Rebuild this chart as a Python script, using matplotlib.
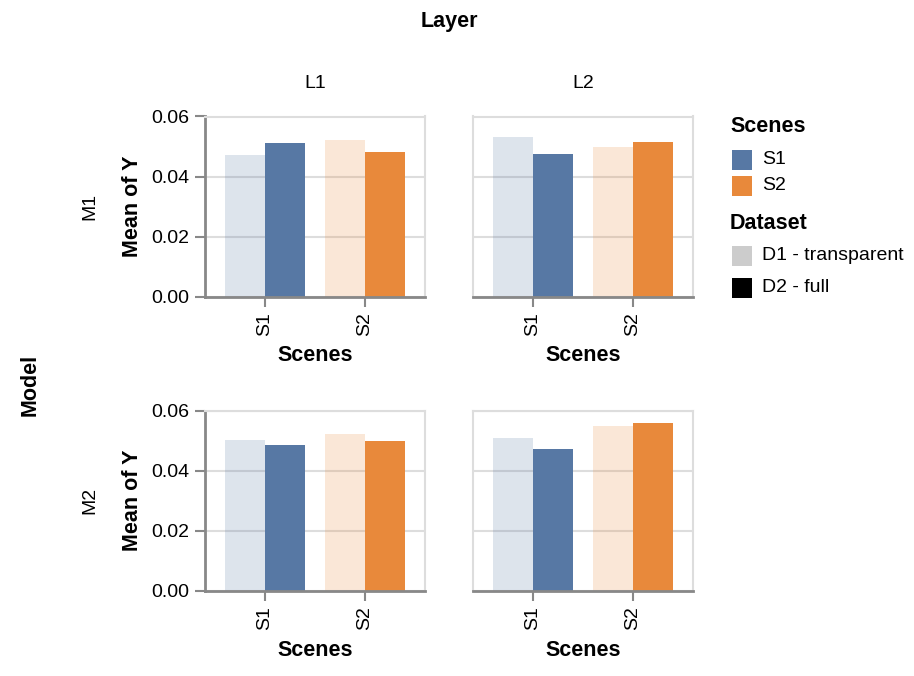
import matplotlib
matplotlib.use("Agg")
import matplotlib.pyplot as plt
from matplotlib.patches import Rectangle

plt.rcParams['font.family'] = ['Liberation Sans', 'DejaVu Sans']

layers = ["L1", "L2"]
models = ["M1", "M2"]
scenes = ["S1", "S2"]
datasets = ["D1 - transparent", "D2 - full"]

# values[model][layer][scene] = (D1, D2)
m1_l1 = {"S1": [0.0473, 0.0511], "S2": [0.0522, 0.0481]}
m1_l2 = {"S1": [0.0531, 0.0476], "S2": [0.0497, 0.0516]}
m2_l1 = {"S1": [0.0502, 0.0487], "S2": [0.0523, 0.0500]}
m2_l2 = {"S1": [0.0509, 0.0472], "S2": [0.0549, 0.0559]}
values = {"M1": {"L1": m1_l1, "L2": m1_l2}, "M2": {"L1": m2_l1, "L2": m2_l2}}

scene_colors = {"S1": "#5778a4", "S2": "#e8893b"}
dataset_alpha = [0.2, 1.0]
yticks = [0.00, 0.02, 0.04, 0.06]

W, H = 914, 676
fig = plt.figure(figsize=(W / 100, H / 100), dpi=100)

def fx(x):
    return x / W

def fy(y):
    return 1 - y / H

col_left = [205, 473]
col_w = 220
row_top = [116.5, 410.7]
row_h = 180

tick_fs = 14
title_fs = 15.5
gray = "#888888"

for r, m in enumerate(models):
    for c, l in enumerate(layers):
        ax = fig.add_axes([fx(col_left[c]), fy(row_top[r] + row_h), col_w / W, row_h / H])
        data = values[m][l]
        for i, s in enumerate(scenes):
            for j, d in enumerate(datasets):
                ax.bar(i - 0.2 + j * 0.4, data[s][j], width=0.4, align='center',
                       color=scene_colors[s], alpha=dataset_alpha[j], linewidth=0, zorder=2)
        ax.set_xlim(-0.6, 1.6)
        ax.set_ylim(0, 0.06)
        ax.set_yticks(yticks)
        ax.grid(axis='y', color='#dddddd', linewidth=1.5, zorder=0)
        ax.set_axisbelow(True)
        for sp in ['top', 'right']:
            ax.spines[sp].set_color('#dddddd')
            ax.spines[sp].set_linewidth(1.5)
        ax.spines['bottom'].set_color(gray)
        ax.spines['bottom'].set_linewidth(2)
        ax.spines['bottom'].set_zorder(3)
        ax.set_xticks(range(len(scenes)))
        ax.set_xticklabels(scenes, rotation=90, fontsize=tick_fs)
        ax.tick_params(axis='x', length=7, width=1.5, color=gray, pad=4)
        ax.set_xlabel("Scenes", fontsize=title_fs, fontweight='bold', labelpad=7)
        if c == 0:
            ax.spines['left'].set_color(gray)
            ax.spines['left'].set_linewidth(2)
            ax.set_yticklabels([f"{v:.2f}" for v in yticks], fontsize=tick_fs)
            ax.tick_params(axis='y', length=7, width=1.5, color=gray, pad=4)
            ax.set_ylabel("Mean of Y", fontsize=title_fs, fontweight='bold', labelpad=6)
        else:
            ax.spines['left'].set_color('#dddddd')
            ax.spines['left'].set_linewidth(1.5)
            ax.tick_params(axis='y', length=0, labelleft=False)

# headers
fig.text(fx(449), fy(22), "Layer", ha='center', va='center', fontsize=title_fs, fontweight='bold')
for c, l in enumerate(layers):
    fig.text(fx(col_left[c] + col_w / 2), fy(83), l, ha='center', va='center', fontsize=tick_fs)
fig.text(fx(30), fy(385), "Model", ha='center', va='center', rotation=90, fontsize=title_fs, fontweight='bold')
for r, m in enumerate(models):
    fig.text(fx(90), fy(row_top[r] + row_h / 2), m, ha='center', va='center', rotation=90, fontsize=tick_fs)

# legend
def swatch(y_top, color):
    fig.patches.append(Rectangle((fx(732), fy(y_top + 20)), 20 / W, 20 / H,
                                 transform=fig.transFigure, color=color, linewidth=0))

fig.text(fx(730), fy(127), "Scenes", ha='left', va='center', fontsize=title_fs, fontweight='bold')
for k, s in enumerate(scenes):
    yt = 150 + k * 26
    swatch(yt, scene_colors[s])
    fig.text(fx(762), fy(yt + 10), s, ha='left', va='center', fontsize=tick_fs)

fig.text(fx(730), fy(223), "Dataset", ha='left', va='center', fontsize=title_fs, fontweight='bold')
ds_colors = ["#cccccc", "#000000"]
for k, d in enumerate(datasets):
    yt = 246 + k * 32
    swatch(yt, ds_colors[k])
    fig.text(fx(762), fy(yt + 10), d, ha='left', va='center', fontsize=tick_fs)

fig.savefig("out.png", dpi=100)
